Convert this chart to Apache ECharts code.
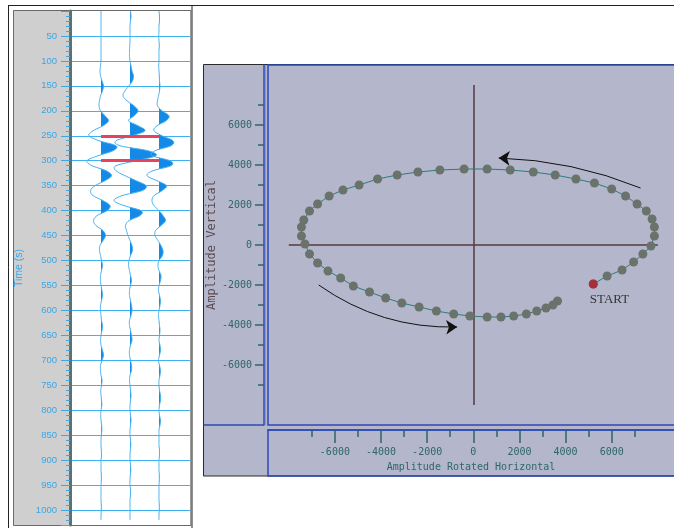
<!DOCTYPE html>
<html>
<head>
<meta charset="utf-8">
<script src="https://cdn.jsdelivr.net/npm/echarts@6/dist/echarts.min.js"></script>
<style>
  html, body { margin: 0; padding: 0; background: #ffffff; }
  #chart { width: 674px; height: 528px; }
</style>
</head>
<body>
<div id="chart"></div>
<script>
// ---- Seismic traces: amplitude every 10 ms from 0 to 1020 ms ----
const sampleStep = 10;
const trace1 = [
  0, 0, 0, 0, 0, 0, 0, 0, 0, 0,
  0, -0.5, -1, -0.5, 1, 2.5, 1.5, -0.5, -1.5, -2,
  -0.5, 4, 7.5, 2, -8, -12, -2, 15, 12, -3,
  -14, -9, 5, 10.5, 4, -6, -10.5, -8, 2, 9,
  6, -4, -7.5, -5, 2, 4.5, 2, -1, -1.5, -0.5,
  0.5, 1.5, 0.5, -0.5, -0.5, 0, 1, 1.5, 0.5, -0.5,
  -0.5, 0, 0.5, 1.5, 1, 0, -0.5, 0, 1.5, 2.5,
  1, -0.5, -0.5, 0, 1, 0.5, -0.3, 0, 0.5, 0.8,
  0, -0.3, 0, 0.6, 0.8, 0.3, 0, 0, 0.3, 0.5,
  0, 0, 0, 0.3, 0.3, 0, 0, 0, 0, 0.3,
  0.3, 0, 0
];
const trace2 = [
  0.5, 1, 0.5, 0, 0, 0, 0, -0.3, -0.5, -0.5,
  0, 1, 2, 3.5, 2.5, -1, -5, -7, -3, 4,
  8, 4, -1.5, 8, 15, 2, -14, -10, 18, 26,
  6, -14, -14, -5, 6, 16, 12, -8, -16, -6,
  11, 10, -1, -4.5, -3.5, -2, 0, 2, 2.5, 0.5,
  -1, -1.5, -0.5, 0.5, 1.5, 0.5, -0.5, -0.5, 0.5, 1.5,
  2, 1, -0.5, -0.5, 0.5, 1.5, 2, 0.5, -0.5, -0.5,
  0.5, 1.5, 1.5, 0, -0.5, 0, 0.5, 1, 0.5, 0,
  0, 0.5, 1, 0.5, 0, 0, 0.5, 0.8, 0.3, 0,
  0, 0.5, 0.8, 0.3, 0, 0, 0.5, 0.5, 0, 0,
  0, 0, 0
];
const trace3 = [
  0, 0.5, 0.5, 0, 0, -0.3, 0, 0.3, 0, 0,
  0, -0.3, 0, 0.3, 0.5, 1, 0.5, -0.5, -1.5, -1.5,
  3, 10, 7, -2, -5, 3, 14, 12, -4, -7,
  11, 12, -6, -12, -2, 7.5, 3, -5, -7, -5,
  0, 4, 6.5, 2, -3.5, -4, -1, 2, 4, 3.5,
  0, -1, 0, 2, 1.5, 0, -0.5, 0.5, 1.5, 1,
  0, -0.5, 0, 0.5, 1, 0.5, 0, 1, 1.5, 0.5,
  -0.5, 0.5, 1.5, 1, 0, 0, 0.5, 1.5, 1.5, 0.5,
  0, 0.5, 1.5, 1, 0, 0, 0, 0, 0.5, 0.5,
  0, 0, 0, 0.3, 0.3, 0, 0, 0, 0, 0.3,
  0.3, 0, 0
];
const traces = [trace1, trace2, trace3];
const tracePositions = [1, 2, 3];
const traceGain = 1 / 29;          // amplitude units per trace spacing
const markerTimes = [250, 300];
const timeLabels = [50, 100, 150, 200, 250, 300, 350, 400, 450, 500,
  550, 600, 650, 700, 750, 800, 850, 900, 950, 1000];

// ---- Hodogram: rotated horizontal vs vertical amplitude ----
const hodoH = [5200, 5800, 6450, 6950, 7350, 7700, 7850, 7850, 7750, 7500,
  7100, 6600, 6000, 5250, 4450, 3550, 2600, 1600, 600, -400,
  -1450, -2400, -3300, -4150, -4950, -5650, -6250, -6750, -7100, -7350,
  -7450, -7450, -7300, -7100, -6750, -6300, -5750, -5200, -4500, -3800,
  -3100, -2350, -1600, -850, -150, 600, 1200, 1750, 2300, 2750,
  3150, 3450, 3650];
const hodoV = [-1950, -1550, -1250, -850, -450, -50, 450, 900, 1300, 1700,
  2050, 2450, 2800, 3100, 3300, 3500, 3650, 3750, 3800, 3800,
  3750, 3650, 3500, 3300, 3000, 2750, 2450, 2050, 1700, 1250,
  900, 450, 50, -450, -900, -1300, -1650, -2050, -2350, -2650,
  -2900, -3100, -3300, -3450, -3550, -3600, -3600, -3550, -3450, -3300,
  -3150, -3000, -2800];
const startPoint = [5200, -1950];
const crossVertical = [[0, -8000], [0, 8000]];
const crossHorizontal = [[-8000, 0], [8000, 0]];
const upperArrow = [[7250, 2850], [1100, 4350]];
const lowerArrow = [[-6700, -2000], [-700, -4100]];
const ampMajor = [-6000, -4000, -2000, 0, 2000, 4000, 6000];
const ampMinor = [-7000, -5000, -3000, -1000, 1000, 3000, 5000, 7000];

const monoFont = 'DejaVu Sans Mono';
const tickTeal = '#2e6666';
const frameBlue = '#2c4ab6';
const plain = v => String(v);

// Catmull-Rom smoothing of a pixel polyline (drawing only)
function smoothPath(pts, steps) {
  const out = [];
  for (let i = 0; i < pts.length - 1; i++) {
    const p0 = pts[Math.max(0, i - 1)], p1 = pts[i], p2 = pts[i + 1], p3 = pts[Math.min(pts.length - 1, i + 2)];
    for (let s = 0; s < steps; s++) {
      const u = s / steps, u2 = u * u, u3 = u2 * u;
      const f = (a, b, c, d) => 0.5 * (2 * b + (-a + c) * u + (2 * a - 5 * b + 4 * c - d) * u2 + (-a + 3 * b - 3 * c + d) * u3);
      out.push([f(p0[0], p1[0], p2[0], p3[0]), f(p0[1], p1[1], p2[1], p3[1])]);
    }
  }
  out.push(pts[pts.length - 1]);
  return out;
}

function renderWiggle(params, api) {
  const k = params.dataIndex;
  const amps = traces[k];
  const base = tracePositions[k];
  const raw = amps.map((a, i) => api.coord([base + a * traceGain, i * sampleStep]));
  const dense = smoothPath(raw, 6);
  const basePx = api.coord([base, 0])[0];
  const fill = dense.map(p => [Math.max(basePx, p[0]), p[1]]);
  fill.push([basePx, dense[dense.length - 1][1]]);
  fill.push([basePx, dense[0][1]]);
  return {
    type: 'group',
    children: [
      { type: 'polygon', shape: { points: fill }, style: { fill: '#1589e6', stroke: null } },
      { type: 'polyline', shape: { points: dense }, style: { stroke: '#43b0f3', lineWidth: 1, fill: null } }
    ]
  };
}

const chart = echarts.init(document.getElementById('chart'));
chart.setOption({
  animation: false,
  backgroundColor: '#ffffff',
  graphic: [
    // seismic panel frames
    { type: 'rect', z: -10, shape: { x: 8.5, y: 5.5, width: 183.5, height: 530 }, style: { fill: '#ffffff', stroke: '#222222', lineWidth: 1 } },
    { type: 'rect', z: -9, shape: { x: 13.5, y: 10.5, width: 177.5, height: 515 }, style: { fill: '#cfcfcf', stroke: '#6a6a6a', lineWidth: 1 } },
    { type: 'line', z: -9, shape: { x1: 8, y1: 5.5, x2: 674, y2: 5.5 }, style: { stroke: '#222222', lineWidth: 1 } },
    // hodogram panel
    { type: 'rect', z: -10, shape: { x: 203.5, y: 64.5, width: 490, height: 411.5 }, style: { fill: '#b4b7cb', stroke: '#2a2a2a', lineWidth: 1 } },
    { type: 'rect', z: -8, shape: { x: 268, y: 65, width: 430, height: 360 }, style: { fill: null, stroke: frameBlue, lineWidth: 1.5 } },
    { type: 'rect', z: -8, shape: { x: 268, y: 430, width: 430, height: 46 }, style: { fill: null, stroke: frameBlue, lineWidth: 1.5 } },
    { type: 'line', z: -8, shape: { x1: 203.5, y1: 425, x2: 264, y2: 425 }, style: { stroke: frameBlue, lineWidth: 1.5 } },
    { type: 'line', z: -8, shape: { x1: 265.5, y1: 65, x2: 265.5, y2: 425 }, style: { stroke: '#c0687a', lineWidth: 1, opacity: 0.6 } }
  ],
  grid: [
    { left: 70, top: 11, width: 120, height: 514, show: true, backgroundColor: '#ffffff', borderWidth: 0, outerBoundsMode: 'none' },
    { left: 268, top: 65, right: 0, bottom: 103, outerBoundsMode: 'none' }
  ],
  xAxis: [
    { gridIndex: 0, type: 'value', min: -0.07, max: 4.07, show: false },
    {
      gridIndex: 1, type: 'value', min: -8900, max: 8700, position: 'bottom', offset: 5,
      name: 'Amplitude Rotated Horizontal', nameLocation: 'middle', nameGap: 32, nameMoveOverlap: false,
      nameTextStyle: { color: tickTeal, fontFamily: monoFont, fontSize: 10 },
      axisLine: { show: true, onZero: false, lineStyle: { color: frameBlue, width: 1.5 } },
      axisTick: { show: true, customValues: ampMajor, length: 13, lineStyle: { color: tickTeal, width: 1.5 } },
      axisLabel: { customValues: ampMajor, formatter: plain, margin: 17, color: tickTeal, fontFamily: monoFont, fontSize: 10 },
      splitLine: { show: false }
    },
    {
      gridIndex: 1, type: 'value', min: -8900, max: 8700, position: 'bottom', offset: 5,
      axisLine: { show: false, onZero: false },
      axisTick: { show: true, customValues: ampMinor, length: 7, lineStyle: { color: tickTeal, width: 1.5 } },
      axisLabel: { show: false },
      splitLine: { show: false }
    }
  ],
  yAxis: [
    {
      gridIndex: 0, type: 'value', inverse: true, min: 0, max: 1030, interval: 50, position: 'left',
      name: 'Time (s)', nameLocation: 'middle', nameGap: 45,
      nameTextStyle: { color: '#3aa6e6', fontFamily: 'Liberation Sans', fontSize: 10.5 },
      axisLine: { show: true, onZero: false, lineStyle: { color: '#557575', width: 3 } },
      axisTick: { show: true, length: 9, lineStyle: { color: '#3aa8e8', width: 1 } },
      minorTick: { show: true, splitNumber: 5, length: 4, lineStyle: { color: '#3aa8e8', width: 1 } },
      axisLabel: { customValues: timeLabels, formatter: plain, margin: 13, color: '#3aa6e6', fontFamily: 'Liberation Sans', fontSize: 9.5 },
      splitLine: { show: true, showMinLine: false, showMaxLine: false, lineStyle: { color: '#3db2f2', width: 1 } }
    },
    {
      gridIndex: 1, type: 'value', min: -9000, max: 9000, position: 'left', offset: 4,
      name: 'Amplitude Vertical', nameLocation: 'middle', nameGap: 46, nameMoveOverlap: false,
      nameTextStyle: { color: '#5a4a50', fontFamily: monoFont, fontSize: 12 },
      axisLine: { show: true, onZero: false, lineStyle: { color: frameBlue, width: 1.5 } },
      axisTick: { show: true, customValues: ampMajor, length: 9, lineStyle: { color: tickTeal, width: 1.5 } },
      axisLabel: { customValues: ampMajor, formatter: plain, margin: 12, color: tickTeal, fontFamily: monoFont, fontSize: 10 },
      splitLine: { show: false }
    },
    {
      gridIndex: 1, type: 'value', min: -9000, max: 9000, position: 'left', offset: 4,
      axisLine: { show: false, onZero: false },
      axisTick: { show: true, customValues: ampMinor, length: 6, lineStyle: { color: tickTeal, width: 1.5 } },
      axisLabel: { show: false },
      splitLine: { show: false }
    }
  ],
  series: [
    {
      type: 'custom', name: 'traces', xAxisIndex: 0, yAxisIndex: 0, clip: true,
      data: tracePositions.map(p => [p, 0]),
      renderItem: renderWiggle
    },
    {
      type: 'lines', name: 'markers', coordinateSystem: 'cartesian2d', xAxisIndex: 0, yAxisIndex: 0, z: 5,
      data: markerTimes.map(t => ({ coords: [[tracePositions[0], t], [tracePositions[2], t]] })),
      lineStyle: { color: '#e5445e', width: 3, opacity: 1 }
    },
    {
      type: 'lines', name: 'axes cross', coordinateSystem: 'cartesian2d', xAxisIndex: 1, yAxisIndex: 1, z: 1,
      data: [{ coords: crossVertical }, { coords: crossHorizontal }],
      lineStyle: { color: '#553a40', width: 1.5, opacity: 1 }
    },
    {
      type: 'line', name: 'particle motion', xAxisIndex: 1, yAxisIndex: 1, z: 3,
      data: hodoH.map((h, i) => [h, hodoV[i]]),
      symbol: 'circle', symbolSize: 9, showAllSymbol: true,
      itemStyle: { color: '#6a726c' },
      lineStyle: { color: '#2a7c7e', width: 1 }
    },
    {
      type: 'scatter', name: 'start', xAxisIndex: 1, yAxisIndex: 1, z: 4,
      data: [startPoint], symbolSize: 9,
      itemStyle: { color: '#b31e30' },
      label: { show: true, formatter: 'START', position: [1, 14], color: '#111111', fontFamily: 'Liberation Serif', fontSize: 13 }
    },
    {
      type: 'lines', name: 'direction', coordinateSystem: 'cartesian2d', xAxisIndex: 1, yAxisIndex: 1, z: 4,
      symbol: ['none', 'arrow'], symbolSize: [6, 11],
      data: [
        { coords: upperArrow, lineStyle: { curveness: -0.09 } },
        { coords: lowerArrow, lineStyle: { curveness: -0.166 } }
      ],
      lineStyle: { color: '#111111', width: 1, opacity: 1 }
    }
  ]
});
</script>
</body>
</html>
